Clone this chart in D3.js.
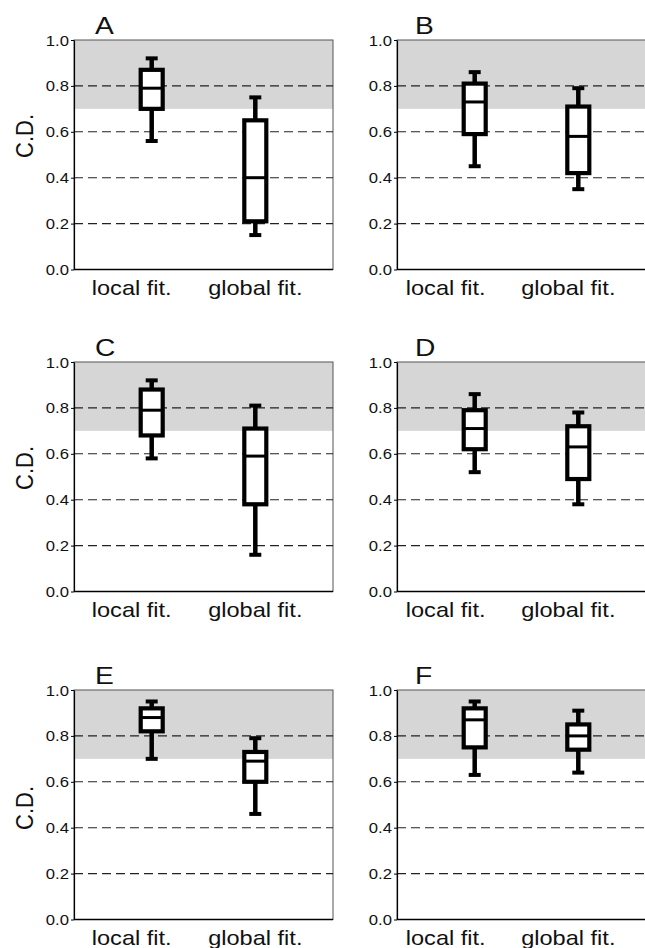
<!DOCTYPE html>
<html>
<head>
<meta charset="utf-8">
<script src="https://cdn.jsdelivr.net/npm/d3@7"></script>
<style>
  html, body { margin: 0; padding: 0; background: #fff; overflow: hidden; }
  svg { display: block; }
  text { font-family: "Liberation Sans", Arial, Helvetica, sans-serif; fill: #111; }
</style>
</head>
<body>
<svg id="chart" width="645" height="948"></svg>
<script>
// Panel letters and the two fitting methods compared in each panel
const panelNames = ["A", "B", "C", "D", "E", "F"];
const methods = ["local fit.", "global fit."];

// Box statistics per panel: [whisker low, Q1, median, Q3, whisker high]
const localFit = [
  [0.56, 0.70, 0.79, 0.87, 0.92],
  [0.45, 0.59, 0.73, 0.81, 0.86],
  [0.58, 0.68, 0.79, 0.88, 0.92],
  [0.52, 0.62, 0.71, 0.79, 0.86],
  [0.70, 0.82, 0.88, 0.92, 0.95],
  [0.63, 0.75, 0.87, 0.92, 0.95]
];
const globalFit = [
  [0.15, 0.21, 0.40, 0.65, 0.75],
  [0.35, 0.42, 0.58, 0.71, 0.79],
  [0.16, 0.38, 0.59, 0.71, 0.81],
  [0.38, 0.49, 0.63, 0.72, 0.78],
  [0.46, 0.60, 0.69, 0.73, 0.79],
  [0.64, 0.74, 0.80, 0.85, 0.91]
];

// Y axis ticks, dashed reference lines and the shaded high-C.D. band
const yTicks = [0.0, 0.2, 0.4, 0.6, 0.8, 1.0];
const gridValues = [0.2, 0.4, 0.6, 0.8];
const shadeBand = [0.7, 1.0];
const yLabel = "C.D.";

// Layout of the 3 x 2 grid
const colLeft = [74, 397];
const rowTop = [40, 362, 690];
const panelW = 259;
const panelH = 229.5;
const yLabelOffset = [96, 106, 118];
const catShift = [[-20, 0], [-29, -10]];
const textStretch = 1.15;

const svg = d3.select("#chart");

const x = d3.scalePoint().domain(methods).range([0, panelW]).padding(0.75);
const y = d3.scaleLinear().domain([0, 1]).range([panelH, 0]);

const boxW = 22, capW = 12;

panelNames.forEach((name, i) => {
  const col = i % 2, row = Math.floor(i / 2);
  const g = svg.append("g")
    .attr("transform", `translate(${colLeft[col]},${rowTop[row]})`);

  // shaded band
  g.append("rect")
    .attr("x", 0).attr("width", panelW)
    .attr("y", y(shadeBand[1]))
    .attr("height", y(shadeBand[0]) - y(shadeBand[1]))
    .attr("fill", "#d6d6d6");

  // frame
  g.append("rect")
    .attr("x", 0).attr("y", 0)
    .attr("width", panelW).attr("height", panelH)
    .attr("fill", "none").attr("stroke", "#555").attr("stroke-width", 1);

  // dashed reference lines
  g.selectAll("line.grid").data(gridValues).join("line")
    .attr("class", "grid")
    .attr("x1", 0).attr("x2", panelW)
    .attr("y1", d => y(d)).attr("y2", d => y(d))
    .attr("stroke", "#222").attr("stroke-width", 1.1)
    .attr("stroke-dasharray", "9,5");

  // left axis
  const ax = g.append("g").call(
    d3.axisLeft(y).tickValues(yTicks).tickSize(3).tickSizeOuter(0).tickFormat(d3.format(".1f"))
  );
  ax.select(".domain").attr("stroke", "#000").attr("stroke-width", 1.2);
  ax.selectAll(".tick line").attr("stroke", "#000");
  ax.selectAll(".tick text").remove();
  ax.selectAll(".tick").append("text")
    .attr("transform", `translate(-5,5) scale(${textStretch},1)`)
    .attr("text-anchor", "end")
    .attr("font-size", 14.5)
    .text(d => d3.format(".1f")(d));

  // bottom axis line
  g.append("line")
    .attr("x1", 0).attr("x2", panelW)
    .attr("y1", y(0)).attr("y2", y(0))
    .attr("stroke", "#000").attr("stroke-width", 1.4);

  // category labels
  g.selectAll("text.cat").data(methods).join("text")
    .attr("class", "cat")
    .attr("transform", (d, k) => `translate(${x(d) + catShift[col][k]},${panelH + 25}) scale(${textStretch},1)`)
    .attr("text-anchor", "middle")
    .attr("font-size", 20.5)
    .text(d => d);

  // panel letter
  g.append("text")
    .attr("transform", `translate(${col === 0 ? 21 : 18},-6) scale(${textStretch},1)`)
    .attr("font-size", 24.5)
    .text(name);

  // y axis title on the left column
  if (col === 0) {
    g.append("text")
      .attr("transform", `translate(-41,${yLabelOffset[row]}) rotate(-90) scale(1,1.1)`)
      .attr("text-anchor", "middle")
      .attr("font-size", 22)
      .text(yLabel);
  }

  // box plots
  const stats = [localFit[i], globalFit[i]];
  stats.forEach((s, k) => {
    const cx = x(methods[k]);
    const [lo, q1, med, q3, hi] = s;
    const bg = g.append("g").attr("stroke", "#000").attr("stroke-linecap", "butt");
    bg.append("line").attr("x1", cx).attr("x2", cx).attr("y1", y(lo)).attr("y2", y(q1)).attr("stroke-width", 4.5);
    bg.append("line").attr("x1", cx).attr("x2", cx).attr("y1", y(q3)).attr("y2", y(hi)).attr("stroke-width", 4.5);
    bg.append("line").attr("x1", cx - capW / 2).attr("x2", cx + capW / 2).attr("y1", y(lo)).attr("y2", y(lo)).attr("stroke-width", 4);
    bg.append("line").attr("x1", cx - capW / 2).attr("x2", cx + capW / 2).attr("y1", y(hi)).attr("y2", y(hi)).attr("stroke-width", 4);
    bg.append("rect")
      .attr("x", cx - boxW / 2).attr("width", boxW)
      .attr("y", y(q3)).attr("height", y(q1) - y(q3))
      .attr("fill", "#fff").attr("stroke-width", 4.2);
    bg.append("line").attr("x1", cx - boxW / 2).attr("x2", cx + boxW / 2).attr("y1", y(med)).attr("y2", y(med)).attr("stroke-width", 3);
  });
});
</script>
</body>
</html>
